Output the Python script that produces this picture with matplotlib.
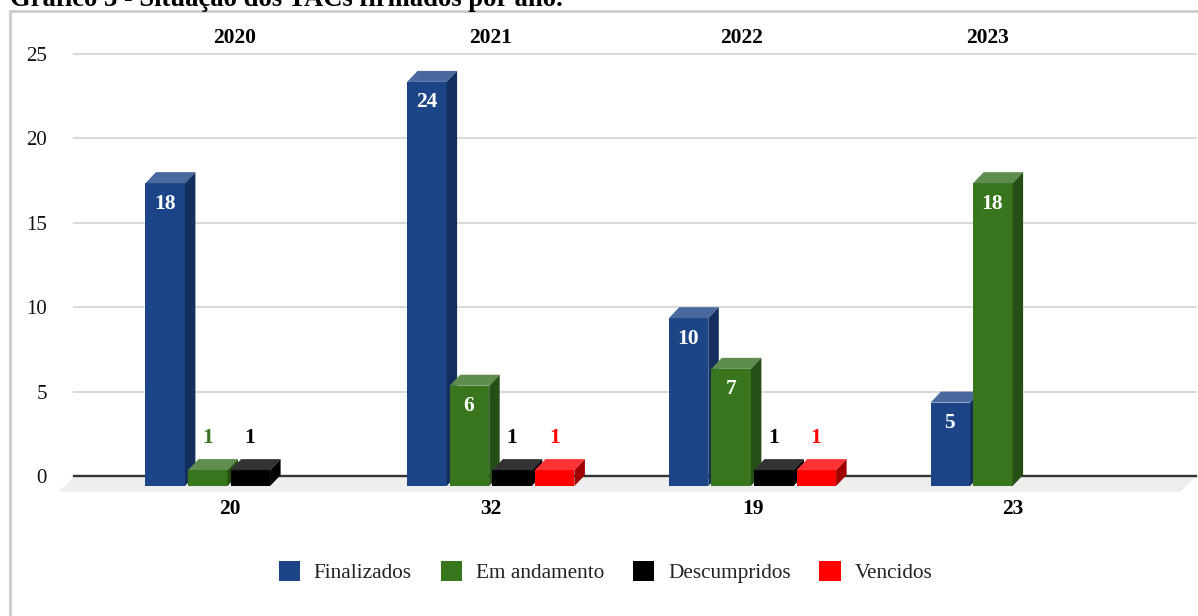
import matplotlib
matplotlib.use('Agg')
import matplotlib.pyplot as plt
from matplotlib.patches import Patch, Polygon, Rectangle

plt.rcParams['font.family'] = ['Liberation Serif', 'DejaVu Serif']

years = ['2020', '2021', '2022', '2023']
totals = [20, 32, 19, 23]
series_names = ['Finalizados', 'Em andamento', 'Descumpridos', 'Vencidos']
finalizados = [18, 24, 10, 5]
em_andamento = [1, 6, 7, 18]
descumpridos = [1, 1, 1, 0]
vencidos = [0, 1, 1, 0]
y_ticks = [0, 5, 10, 15, 20, 25]

W, H = 1198, 616
fig = plt.figure(figsize=(W / 100, H / 100), dpi=100)
bg = fig.add_axes([0, 0, 1, 1])
bg.set_xlim(0, W)
bg.set_ylim(H, 0)
bg.axis('off')

# moldura e titulo (cortado em cima na imagem original)
bg.add_patch(Rectangle((10, 11), 1400, 800, fc='white', ec='#cccccc', lw=2))
bg.text(10, 5.5, 'Gráfico 3 - Situação dos TACs firmados por ano.', fontsize=19.2,
        fontweight='bold', va='baseline', ha='left', color='black')

# area do grafico: y=0 em 476 px, y=25 em 54 px, 261.7 px entre grupos
x_left, x_right = 74, 1196
group_px = 261.7
center0 = 230.6
ax = fig.add_axes([x_left / W, 1 - 476 / H, (x_right - x_left) / W, (476 - 54) / H])
ax.set_xlim((x_left - center0) / group_px, (x_right - center0) / group_px)
ax.set_ylim(0, 25)
ax.patch.set_alpha(0)
for s in ax.spines.values():
    s.set_visible(False)
ax.set_xticks([])
ax.set_yticks(y_ticks)
ax.tick_params(axis='y', length=0, pad=19.5, labelsize=15, labelcolor='#111111')
for v in y_ticks[1:]:
    ax.axhline(v, color='#d9d9d9', lw=1.4, zorder=1, clip_on=False)
ax.axhline(0, color='#333333', lw=1.7, zorder=2, clip_on=False)


# deslocamento em pixels sobre as coordenadas de dados
def px_to_data(dx, dy):
    return dx / group_px, dy * 25 / (476 - 54)


bg.add_patch(Polygon([(74, 477), (1196, 477), (1180, 492), (58, 492)], fc='#eeeeee', ec='none', zorder=1))

colors = ['#1c4587', '#38761d', '#000000', '#ff0000']
tops = ['#49699f', '#5f8d4d', '#333333', '#ff3333']
sides = ['#142f5e', '#254f14', '#000000', '#a00000']
all_series = [finalizados, em_andamento, descumpridos, vencidos]

step = 42.6 / group_px
bar_w = 39.5 / group_px
depth_x, depth_y = px_to_data(10.5, 11)
base = px_to_data(0, -10)[1]

for j, values in enumerate(all_series):
    for i, v in enumerate(values):
        if v == 0:
            continue
        x0 = i + (j - 2) * step
        x1 = x0 + bar_w
        top = v - depth_y
        z = 5 + j * 0.1
        ax.add_patch(Rectangle((x0, base), bar_w, top - base, fc=colors[j], ec='none', zorder=z, clip_on=False))
        ax.add_patch(Polygon([(x0, top), (x1, top), (x1 + depth_x, v), (x0 + depth_x, v)],
                             fc=tops[j], ec='none', zorder=z, clip_on=False))
        ax.add_patch(Polygon([(x1, base), (x1 + depth_x, base + depth_y), (x1 + depth_x, v), (x1, top)],
                             fc=sides[j], ec='none', zorder=z, clip_on=False))
        # rotulo dentro da barra, ou acima quando a barra e baixa
        if v >= 5:
            ly, color = top - px_to_data(0, 20.5)[1], 'white'
        else:
            ly, color = v + px_to_data(0, 21.5)[1], colors[j]
        ax.text(x0 + bar_w / 2 - 0.5 / group_px, ly, str(v),
                ha='center', va='center', fontsize=15.5, fontweight='bold', color=color, zorder=8)

# rotulos de cima e de baixo de cada grupo
year_offsets = [4.5, -1.5, -12.5, -28.5]
total_offsets = [-0.5, -1.5, -1.5, -3]
for i, (year, total) in enumerate(zip(years, totals)):
    ax.text(i + year_offsets[i] / group_px, 25 + px_to_data(0, 16)[1], year, ha='center', va='center',
            fontsize=15.5, fontweight='bold')
    ax.text(i + total_offsets[i] / group_px, -px_to_data(0, 33)[1], str(total), ha='center', va='center',
            fontsize=15.5, fontweight='bold', clip_on=False)

handles = [Patch(fc=c, ec='none') for c in colors]
fig.legend(handles, series_names, ncol=4, loc='center', bbox_to_anchor=(605.5 / W, 1 - 572 / H),
           frameon=False, fontsize=15.3, handlelength=1.0, handleheight=1.05, handletextpad=0.65,
           columnspacing=1.36, labelcolor='#222222')

fig.savefig('out.png', dpi=100)
